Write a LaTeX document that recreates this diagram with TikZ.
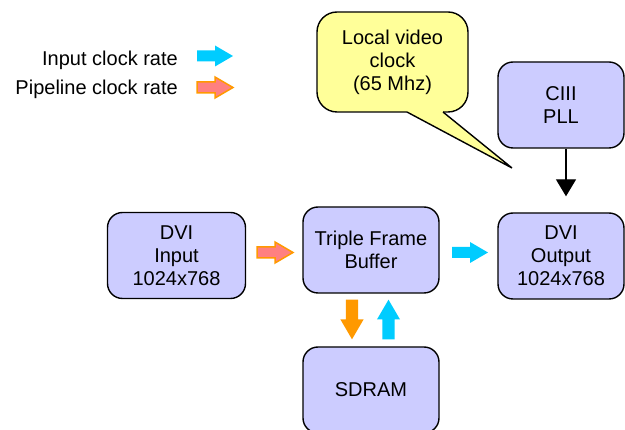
\documentclass[tikz,border=0pt]{standalone}
\usepackage{fontspec}
\setmainfont{Liberation Sans}
\usetikzlibrary{arrows.meta}
\definecolor{boxfill}{HTML}{CCCCFF}
\definecolor{callfill}{HTML}{FFFF99}
\definecolor{clkblue}{HTML}{00CCFF}
\definecolor{clkorange}{HTML}{FF9900}
\definecolor{clkpink}{HTML}{FF8080}
\begin{document}
\begin{tikzpicture}[x=1pt,y=-1pt,
  font=\fontsize{20}{23}\selectfont,
  blk/.style={draw=black, line width=1.4pt, fill=boxfill, rounded corners=15pt,
    minimum width=136pt, minimum height=86pt, align=center, inner sep=0pt},
  callbox/.style={draw=black, line width=1.4pt, fill=callfill, rounded corners=20pt,
    minimum width=151pt, minimum height=100pt, align=center, inner sep=0pt},
  legendtxt/.style={anchor=base east, inner sep=0pt},
  fatarrow/.pic={\path[pic actions] (-18,-5.5) -- (0,-5.5) -- (0,-10.5) -- (18,0)
      -- (0,10.5) -- (0,5.5) -- (-18,5.5) -- cycle;},
  bluearr/.style={fill=clkblue, draw=none},
  pinkarr/.style={fill=clkpink, draw=clkorange, line width=1.5pt},
  orangearr/.style={fill=clkorange, draw=none},
  pllarrow/.style={draw=black, line width=1.4pt, -{Triangle[width=20pt,length=17pt]}}
]
\useasboundingbox (0,0) rectangle (625,430);

% legend
\node[legendtxt] (l1) at (178,66) {Input clock rate};
\node[legendtxt] (l2) at (178,95) {Pipeline clock rate};
\pic[bluearr] at (215,56) {fatarrow};
\pic[pinkarr] at (215,87.5) {fatarrow};

% blocks
\node[blk, minimum width=138pt] (in) at (176.5,255.5) {DVI\\Input\\1024x768};
\node[blk] (tfb) at (371,250) {Triple Frame\\Buffer};
\node[blk, minimum width=126pt] (out) at (561,256) {DVI\\Output\\1024x768};
\node[blk, minimum width=126pt] (pll) at (561,105) {CIII\\PLL};
\node[blk] (sd) at (371,390) {SDRAM};

% callout
\node[callbox] (call) at (392.5,62) {Local video\\clock\\(65 Mhz)};
\coordinate (tip) at (512,168);
\fill[callfill] (407,109) -- (443,109) -- (443,112) -- (tip) -- (407,112) -- cycle;
\draw[line width=1.4pt, line join=miter] (407,112) -- (tip) -- (443,112);

% clock arrows
\pic[pinkarr] at (275,252.5) {fatarrow};
\pic[bluearr] at (470,252.5) {fatarrow};
\pic[orangearr, rotate=-90, scale=1.1] at (352,319.5) {fatarrow};
\pic[bluearr, rotate=90, scale=1.1] at (388.5,319.5) {fatarrow};

% PLL to output
\draw[pllarrow] ([xshift=5pt]pll.south) -- ([xshift=5pt,yshift=16pt]out.north);
\end{tikzpicture}
\end{document}
